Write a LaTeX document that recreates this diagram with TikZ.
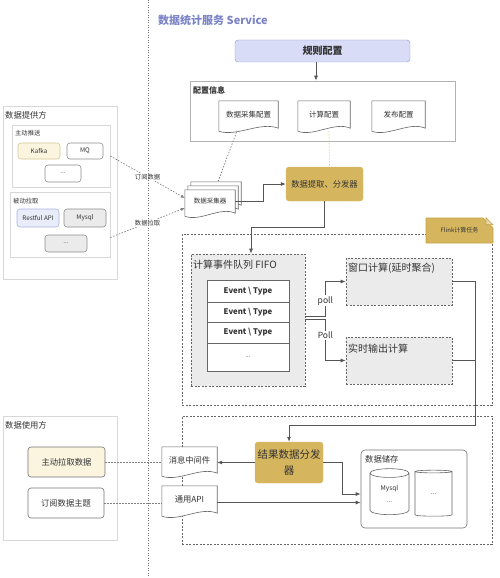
\documentclass[tikz,border=0pt]{standalone}
\usepackage{fontspec}
\setmainfont{Noto Sans CJK SC}
\usetikzlibrary{calc,arrows.meta,shapes.geometric,shapes.misc}
\definecolor{titleblue}{HTML}{7C84C8}
\definecolor{rulefill}{HTML}{D8DCF6}
\definecolor{ruleline}{HTML}{9096D6}
\definecolor{gold}{HTML}{D5B55E}
\definecolor{goldline}{HTML}{C4A24A}
\definecolor{lineg}{HTML}{555555}
\definecolor{paleg}{HTML}{D8D8D8}
\definecolor{grayfill}{HTML}{EBEBEB}
\definecolor{kafkafill}{HTML}{FBF5DF}
\definecolor{kafkaline}{HTML}{D6C796}
\definecolor{restfill}{HTML}{E9EDFA}
\definecolor{restline}{HTML}{A8B3DE}
\definecolor{yellowdash}{HTML}{E6D58A}

% wavy document outline round a node
\newcommand\wavedoc[1]{%
  \fill[white] (#1.south east) .. controls ($(#1.south east)!0.3!(#1.south west)+(0,-7)$) and ($(#1.south east)!0.7!(#1.south west)+(0,9)$) .. ([yshift=-3pt]#1.south west) -- (#1.south west) -- cycle;
  \draw[docline] ([yshift=-3pt]#1.south west) -- (#1.north west) -- (#1.north east) -- (#1.south east) .. controls ($(#1.south east)!0.3!(#1.south west)+(0,-7)$) and ($(#1.south east)!0.7!(#1.south west)+(0,9)$) .. ([yshift=-3pt]#1.south west);
}

\begin{document}
\begin{tikzpicture}[x=1pt,y=-1pt]
      \tikzset{every node/.style={text=black!80},
        f6/.style={font=\fontsize{6.3}{7.5}\selectfont},
        f7/.style={font=\fontsize{7.5}{9}\selectfont},
        f8/.style={font=\fontsize{8.3}{10}\selectfont},
        f10/.style={font=\fontsize{10}{12}\selectfont},
        box/.style={draw=paleg, line width=0.6pt, inner sep=0pt},
        rbox/.style={draw=black!45, line width=0.6pt, rounded corners=3pt, inner sep=0pt},
        boxlabel/.style={anchor=west, inner sep=0pt},
        golden/.style={draw=gold, fill=gold, rounded corners=3pt, inner sep=0pt},
        docbox/.style={fill=white, inner sep=0pt, f7},
        docline/.style={draw=black!60, line width=0.6pt},
        dashbox/.style={draw=black!60, line width=0.7pt, dash pattern=on 2pt off 1.5pt, inner sep=0pt},
        cell/.style={draw=black!60, fill=white, line width=0.6pt, minimum width=82pt, inner sep=0pt, font=\bfseries\fontsize{7.8}{9}\selectfont},
        flow/.style={draw=lineg, line width=0.8pt},
        arr/.style={flow, -{Latex[length=5pt,width=4pt]}},
        dots/.style={draw=black!50, line width=0.7pt, dash pattern=on 1.5pt off 1.5pt}}
      \useasboundingbox (0,0) rectangle (500,578);
%% Left: providers
	%Datenquelle
      	\node[box, minimum width=114pt, minimum height=173pt] (provider) at (60,192.5) {};
      	\node[boxlabel, f8] (providerlabel) at (5,115) {数据提供方};
      	\node[box, minimum width=98pt, minimum height=62pt] (push) at (61,156) {};
      	\node[boxlabel, f6] (pushlabel) at (15,133) {主动推送};
      	\node[rbox, fill=kafkafill, draw=kafkaline, minimum width=42pt, minimum height=16pt, f6] (kafka) at (39,151) {Kafka};
      	\node[rbox, minimum width=36pt, minimum height=16pt, f6] (mqsrc) at (85,151) {MQ};
      	\node[rbox, minimum width=36pt, minimum height=17pt, f6] (pushmore) at (63,173.5) {...};
      	\node[box, minimum width=100pt, minimum height=65pt] (pull) at (60,224.5) {};
      	\node[boxlabel, f6] (pulllabel) at (13,201) {被动拉取};
      	\node[rbox, fill=restfill, draw=restline, minimum width=42pt, minimum height=18pt, f6] (restful) at (38,218) {Restful API};
      	\node[rbox, fill=grayfill, minimum width=42pt, minimum height=18pt, f6] (mysqlsrc) at (85,218) {Mysql};
      	\node[rbox, fill=grayfill, minimum width=42pt, minimum height=17pt, f6] (pullmore) at (66,243.5) {...};
	%Consumers
      	\node[box, minimum width=114pt, minimum height=124pt] (consumer) at (60,478) {};
      	\node[boxlabel, f8] (consumerlabel) at (5,425) {数据使用方};
      	\node[rbox, fill=kafkafill, draw=black!55, minimum width=77pt, minimum height=30pt, f8] (pullbox) at (66.5,462) {主动拉取数据};
      	\node[rbox, draw=black!55, minimum width=76pt, minimum height=30pt, f8] (sub) at (66,503) {订阅数据主题};
%% Service
      	\node[boxlabel, text=titleblue, font=\bfseries\fontsize{11}{13}\selectfont] (title) at (158,20) {数据统计服务 Service};
      	\node[draw=ruleline, fill=rulefill, rounded corners=3pt, minimum width=175pt, minimum height=22pt, inner sep=0pt, font=\bfseries\fontsize{10}{12}\selectfont] (rule) at (322.5,51) {规则配置};
      	\node[draw=black!30, line width=0.6pt, minimum width=265pt, minimum height=60pt, inner sep=0pt] (cfg) at (322.5,111) {};
      	\node[boxlabel, font=\bfseries\fontsize{8}{9}\selectfont] (cfglabel) at (193,90) {配置信息};
      	\node[docbox, minimum width=59pt, minimum height=27pt] (cfgcollect) at (248.5,114.5) {数据采集配置};
      	\wavedoc{cfgcollect}
      	\node[docbox, minimum width=52pt, minimum height=27pt] (cfgcalc) at (324,114.5) {计算配置};
      	\wavedoc{cfgcalc}
      	\node[docbox, minimum width=53pt, minimum height=27pt] (cfgpub) at (398.5,114.5) {发布配置};
      	\wavedoc{cfgpub}
	%collector stack
      	\node[docbox, minimum width=50pt, minimum height=23pt] (colA) at (216,193.5) {};
      	\wavedoc{colA}
      	\node[docbox, minimum width=50pt, minimum height=23pt] (colB) at (213,197.5) {};
      	\wavedoc{colB}
      	\node[docbox, minimum width=50pt, minimum height=23pt, font=\fontsize{6.5}{8}\selectfont] (col) at (210,201.5) {数据采集器};
      	\wavedoc{col}
      	\node[golden, minimum width=77pt, minimum height=34pt, f8] (dispatch) at (324.5,184) {数据提取、分发器};
	%Flink
      	\node[dashbox, minimum width=310pt, minimum height=171pt] (flink) at (337,319.5) {};
      	\node[chamfered rectangle, chamfered rectangle corners=north east, chamfered rectangle xsep=7pt, chamfered rectangle ysep=7pt, draw=goldline, fill=gold, line width=0.6pt, minimum width=67pt, minimum height=25pt, inner sep=0pt, font=\fontsize{6}{7}\selectfont] (flinknote) at (459.5,230.5) {Flink计算任务};
      	\filldraw[fill=gold!55, draw=goldline, line width=0.6pt] ([xshift=26.5pt]flinknote.north) -- ++(0,7) -- ++(7,0) -- cycle;
      	\node[dashbox, fill=grayfill, minimum width=114pt, minimum height=132pt] (queue) at (248,320) {};
      	\node[boxlabel, f10] (queuelabel) at (193,265) {计算事件队列 FIFO};
      	\node[cell, minimum height=22pt] (row1) at (248,291) {Event \textbackslash{} Type};
      	\node[cell, minimum height=20pt] (row2) at (248,312) {Event \textbackslash{} Type};
      	\node[cell, minimum height=21pt] (row3) at (248,332.5) {Event \textbackslash{} Type};
      	\node[cell, minimum height=28pt, font=\fontsize{6}{7}\selectfont] (row4) at (248,357) {...};
      	\node[dashbox, fill=grayfill, minimum width=106pt, minimum height=47pt] (win) at (399,281.5) {};
      	\node[boxlabel, f10] (winlabel) at (348,268) {窗口计算(延时聚合)};
      	\node[dashbox, fill=grayfill, minimum width=106pt, minimum height=47pt] (real) at (399,360.5) {};
      	\node[boxlabel, f10] (reallabel) at (348,349) {实时输出计算};
	%Results
      	\node[dashbox, minimum width=310pt, minimum height=128pt] (result) at (337,480) {};
      	\node[golden, minimum width=68pt, minimum height=41pt, align=center, font=\fontsize{10.5}{16}\selectfont] (resdisp) at (289,462.5) {结果数据分发\\器};
      	\node[docbox, minimum width=55pt, minimum height=26pt, f8] (mq) at (189.5,460) {消息中间件};
      	\wavedoc{mq}
      	\node[docbox, minimum width=55pt, minimum height=27pt, f8] (api) at (189.5,499.5) {通用API};
      	\wavedoc{api}
      	\node[rbox, draw=black!55, rounded corners=4pt, minimum width=106pt, minimum height=78pt] (store) at (414,489) {};
      	\node[boxlabel, f8] (storelabel) at (365,459) {数据储存};
      	\node[cylinder, shape border rotate=90, aspect=0.5, draw=black!60, line width=0.6pt, fill=white, minimum width=39pt, minimum height=46pt, inner sep=0pt, align=center, font=\fontsize{6.5}{12}\selectfont] (mysqldb) at (389.5,494) {Mysql\\...};
      	\node[cylinder, shape border rotate=90, aspect=0.5, draw=black!60, line width=0.6pt, fill=white, minimum width=37pt, minimum height=46pt, inner sep=0pt, font=\fontsize{6.5}{8}\selectfont] (otherdb) at (433.5,494) {...};
%Edges
	%providers
		\draw [dots, -{Latex[length=4pt,width=3.5pt]}] (push.east) -- node[fill=white, f6, inner sep=1pt] (sublabel) {订阅数据} ([yshift=3.5pt]col.west);
		\draw [dots, -{Latex[length=4pt,width=3.5pt]}] ([yshift=-13pt]pull.east) -- node[fill=white, f6, inner sep=1pt] (pulledge) {数据拉取} ([yshift=-6.5pt]col.west);
	%config
		\draw [arr] ([xshift=-6.5pt]rule.south) -- ([xshift=-6.5pt]cfg.north);
		\draw [dots] ([xshift=-12pt,yshift=-4pt]cfgcollect.south) -- ([xshift=2pt]colA.north);
		\draw [dots, draw=yellowdash] ([xshift=5pt,yshift=-3pt]cfgcalc.south) -- ([xshift=5pt]dispatch.north);
		\draw [arr] (col.east) -- ++(28,0) |- (dispatch.west);
		\draw [arr] (dispatch.south) -- ++(0,26.5) -| ([xshift=3pt]queue.north);
	%poll
		\draw [arr] ([yshift=4pt]queue.east) -- ++(20,0) |- node[pos=0.22, fill=white, inner sep=1pt, font=\fontsize{8.5}{10}\selectfont] (polltop) {poll} (win.west);
		\draw [arr] ([yshift=1pt]queue.east) -- ++(20,0) |- node[pos=0.2, fill=white, inner sep=1pt, font=\fontsize{8.5}{10}\selectfont] (pollbottom) {Poll} (real.west);
		\draw [arr] (win.east) -- ++(23,0) -- ++(0,143.5) -| (resdisp.north);
		\draw [flow] (real.east) -- ++(23,0);
	%results
		\draw [arr] (resdisp.west) -- (resdisp.west -| mq.east);
		\draw [arr] (resdisp.east) -- ++(19,0) |- ([yshift=-5pt]store.west);
		\draw [arr] ([yshift=-3pt]api.east) -- ([yshift=-3pt]api.east -| store.west);
		\draw [dots] (pullbox.east) -- (pullbox.east -| mq.west);
		\draw [dots] (sub.east) -- (sub.east -| api.west);
	%divider
		\coordinate (divtop) at (148,0);
		\coordinate (divbot) at (148,578);
		\draw [draw=black!55, line width=0.7pt, dash pattern=on 1pt off 1.5pt] (divtop) -- (divbot);
	\end{tikzpicture}
\end{document}
